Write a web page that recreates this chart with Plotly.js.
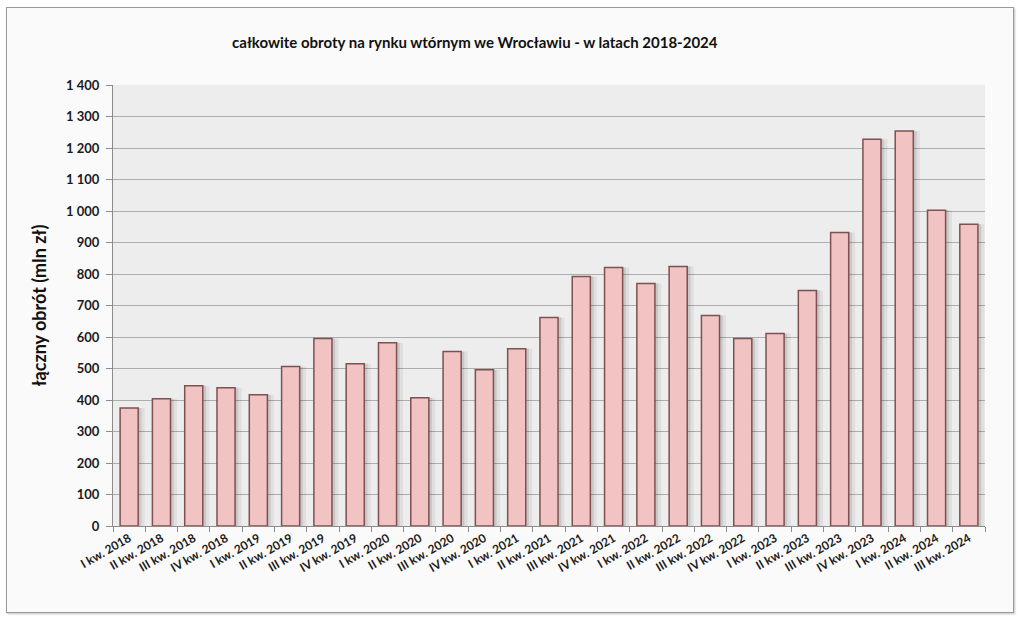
<!DOCTYPE html>
<html>
<head>
<meta charset="utf-8">
<script src="https://cdn.plot.ly/plotly-3.0.1.min.js"></script>
<style>
  body { margin: 0; background: #ffffff; }
  #frame {
    position: absolute; left: 6px; top: 7px;
    width: 1006px; height: 604px;
    border: 1px solid #9a9a9a;
    box-shadow: 1px 1px 2px rgba(0,0,0,0.25);
  }
</style>
</head>
<body>
<div id="frame"><div id="chart"></div></div>
<script>
// kwartały
const quarters = [
  'I kw. 2018', 'II kw. 2018', 'III kw. 2018', 'IV kw. 2018',
  'I kw. 2019', 'II kw. 2019', 'III kw. 2019', 'IV kw. 2019',
  'I kw. 2020', 'II kw. 2020', 'III kw. 2020', 'IV kw. 2020',
  'I kw. 2021', 'II kw. 2021', 'III kw. 2021', 'IV kw. 2021',
  'I kw. 2022', 'II kw. 2022', 'III kw. 2022', 'IV kw. 2022',
  'I kw. 2023', 'II kw. 2023', 'III kw. 2023', 'IV kw. 2023',
  'I kw. 2024', 'II kw. 2024', 'III kw. 2024'
];

// łączny obrót (mln zł)
const turnover = [
  375, 404, 445, 439,
  417, 506, 595, 515,
  582, 407, 554, 496,
  563, 662, 792, 821,
  770, 824, 668, 595,
  611, 748, 932, 1228,
  1254, 1002, 958
];

const font = 'Lato, "Open Sans", "DejaVu Sans", sans-serif';

// soft shadow behind bars (two layers, wider one fainter)
function shadowTrace(width, offset, alpha) {
  return {
    type: 'bar',
    x: quarters,
    y: turnover,
    width: width,
    offset: offset,
    marker: { color: 'rgba(0,0,0,' + alpha + ')', line: { width: 0 } },
    hoverinfo: 'skip',
    showlegend: false
  };
}

const bars = {
  type: 'bar',
  x: quarters,
  y: turnover,
  width: 0.56,
  offset: -0.28,
  marker: {
    color: '#f1c3c3',
    line: { color: '#7e5050', width: 1.5 }
  },
  showlegend: false
};

const layout = {
  width: 1006,
  height: 604,
  margin: { l: 106, r: 28, t: 77, b: 86 },
  paper_bgcolor: '#fafafa',
  plot_bgcolor: '#ededed',
  barmode: 'overlay',
  separators: ', ',
  font: { family: font, color: '#1a1a1a' },
  title: {
    text: 'całkowite obroty na rynku wtórnym we Wrocławiu - w latach 2018-2024',
    font: { family: font, size: 15, color: '#111111', weight: 'bold' },
    x: 0.465,
    xanchor: 'center',
    y: 0.942,
    yanchor: 'middle'
  },
  xaxis: {
    type: 'category',
    tickangle: -30,
    tickfont: { family: font, size: 12, weight: 'bold', color: '#1a1a1a' },
    showline: true,
    linecolor: '#8c8c8c',
    linewidth: 1,
    ticks: 'outside',
    tickson: 'boundaries',
    ticklen: 5,
    tickcolor: '#8c8c8c',
    showgrid: false,
    range: [-0.5, quarters.length - 0.5]
  },
  yaxis: {
    range: [0, 1400],
    dtick: 100,
    separatethousands: true,
    tickfont: { family: font, size: 13, weight: 'bold', color: '#1a1a1a' },
    showline: true,
    linecolor: '#8c8c8c',
    linewidth: 1,
    ticks: 'outside',
    ticklen: 6,
    ticklabelstandoff: 4,
    tickcolor: '#8c8c8c',
    showgrid: true,
    gridcolor: '#adadad',
    gridwidth: 1,
    zeroline: false,
    title: {
      text: 'łączny obrót (mln zł)',
      font: { family: font, size: 18, weight: 'bold', color: '#111111' },
      standoff: 14
    }
  }
};

Plotly.newPlot('chart', [
  shadowTrace(0.72, -0.24, 0.06),
  shadowTrace(0.62, -0.24, 0.10),
  bars
], layout, { displayModeBar: false, staticPlot: true });
</script>
</body>
</html>
